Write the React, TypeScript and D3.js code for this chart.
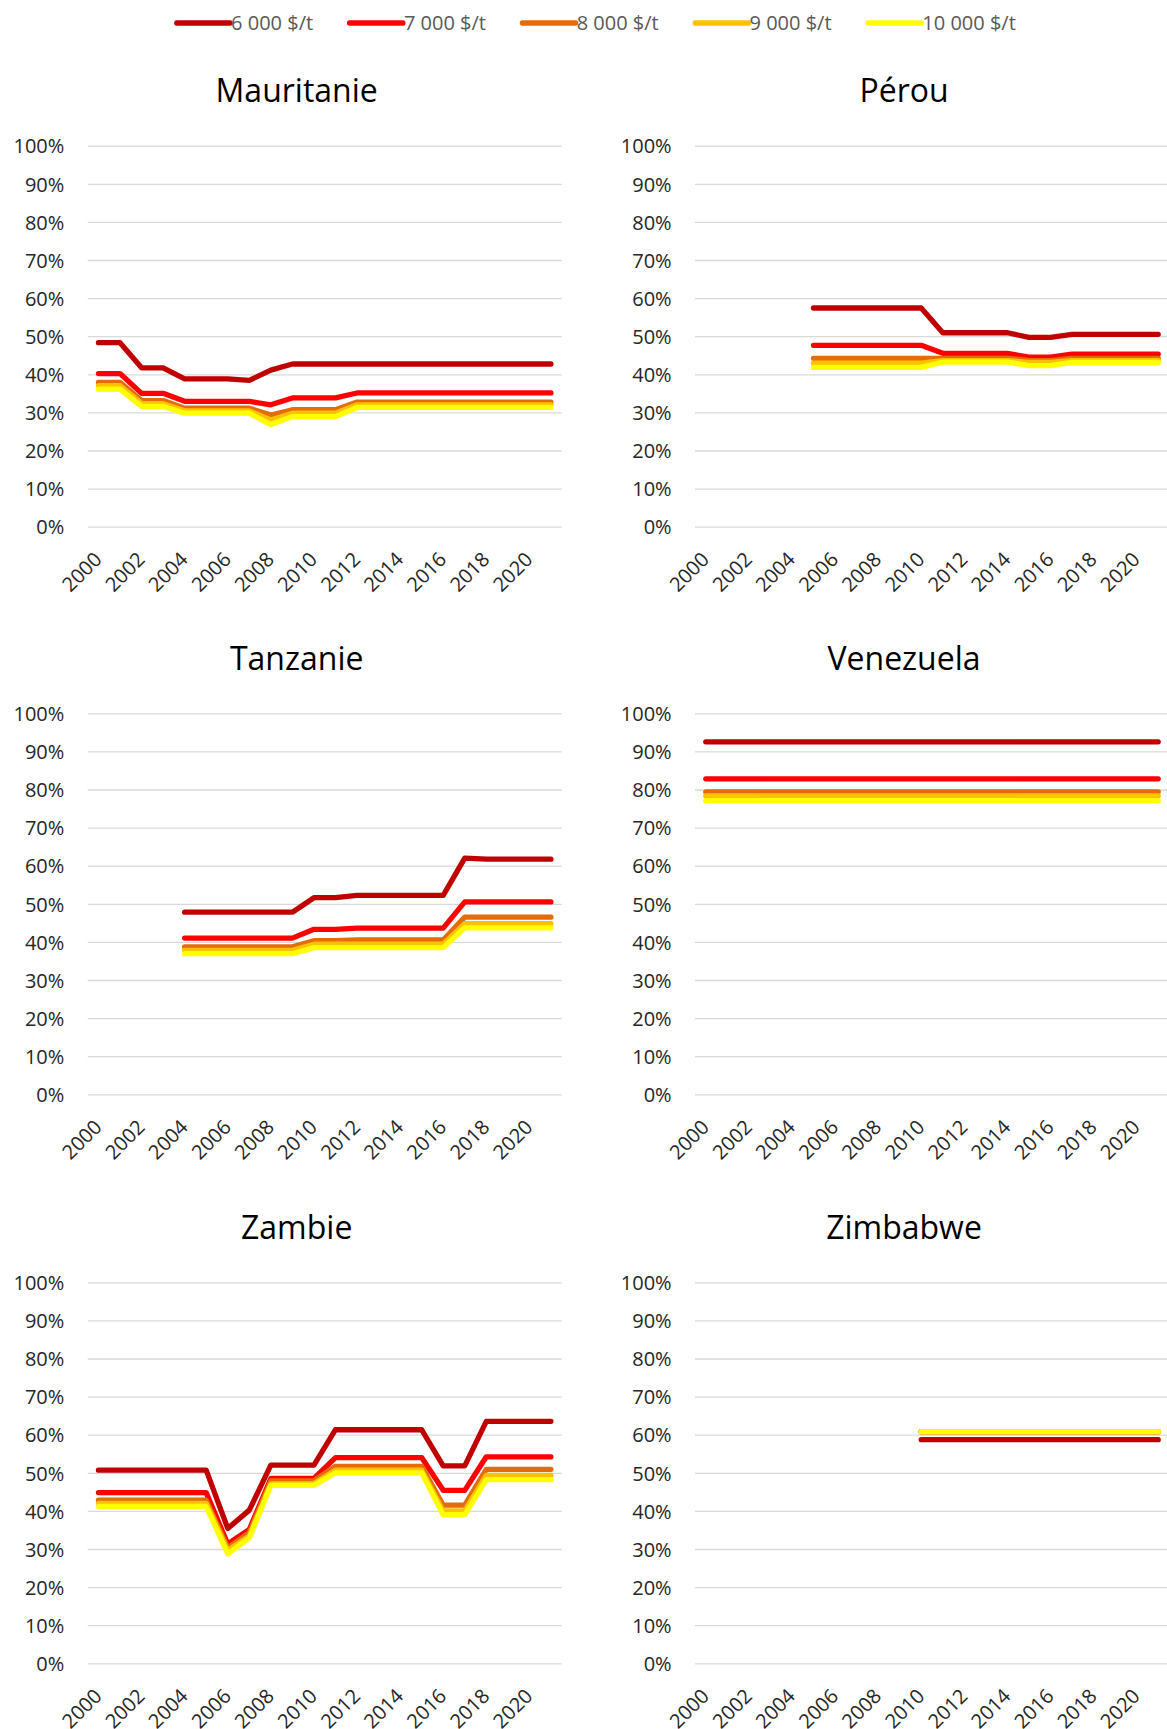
import React, { useEffect, useRef } from 'react';
import * as d3 from 'd3';

// categories
const years = [2000, 2001, 2002, 2003, 2004, 2005, 2006, 2007, 2008, 2009, 2010,
  2011, 2012, 2013, 2014, 2015, 2016, 2017, 2018, 2019, 2020, 2021];
const labelYears = [2000, 2002, 2004, 2006, 2008, 2010, 2012, 2014, 2016, 2018, 2020];
const percentTicks = [0, 10, 20, 30, 40, 50, 60, 70, 80, 90, 100];

const seriesNames = ['6 000 $/t', '7 000 $/t', '8 000 $/t', '9 000 $/t', '10 000 $/t'];
const seriesColors = ['#C00000', '#FF0000', '#E46C0A', '#FFC000', '#FFFF00'];

const countries = ['Mauritanie', 'Pérou', 'Tanzanie', 'Venezuela', 'Zambie', 'Zimbabwe'];

const _ = null;

// Mauritanie (%)
const mauritanie6000 = [48.3, 48.3, 41.7, 41.7, 38.8, 38.8, 38.8, 38.4, 41.1, 42.7, 42.7, 42.7, 42.7, 42.7, 42.7, 42.7, 42.7, 42.7, 42.7, 42.7, 42.7, 42.7];
const mauritanie7000 = [40.2, 40.2, 35.0, 35.0, 32.9, 32.9, 32.9, 32.9, 32.0, 33.8, 33.8, 33.8, 35.1, 35.1, 35.1, 35.1, 35.1, 35.1, 35.1, 35.1, 35.1, 35.1];
const mauritanie8000 = [37.9, 37.9, 33.1, 33.1, 31.1, 31.1, 31.1, 31.1, 29.3, 30.7, 30.7, 30.7, 32.7, 32.7, 32.7, 32.7, 32.7, 32.7, 32.7, 32.7, 32.7, 32.7];
const mauritanie9000 = [37.0, 37.0, 32.3, 32.3, 30.4, 30.4, 30.4, 30.4, 28.0, 29.8, 29.8, 29.8, 32.0, 32.0, 32.0, 32.0, 32.0, 32.0, 32.0, 32.0, 32.0, 32.0];
const mauritanie10000 = [36.1, 36.1, 31.6, 31.6, 29.8, 29.8, 29.8, 29.8, 26.8, 28.9, 28.9, 28.9, 31.3, 31.3, 31.3, 31.3, 31.3, 31.3, 31.3, 31.3, 31.3, 31.3];

// Pérou
const perou6000 = [_, _, _, _, _, 57.4, 57.4, 57.4, 57.4, 57.4, 57.4, 50.9, 50.9, 50.9, 50.9, 49.7, 49.7, 50.5, 50.5, 50.5, 50.5, 50.5];
const perou7000 = [_, _, _, _, _, 47.6, 47.6, 47.6, 47.6, 47.6, 47.6, 45.5, 45.5, 45.5, 45.5, 44.5, 44.5, 45.3, 45.3, 45.3, 45.3, 45.3];
const perou8000 = [_, _, _, _, _, 44.2, 44.2, 44.2, 44.2, 44.2, 44.2, 44.2, 44.2, 44.2, 44.2, 43.6, 43.6, 44.2, 44.2, 44.2, 44.2, 44.2];
const perou9000 = [_, _, _, _, _, 42.9, 42.9, 42.9, 42.9, 42.9, 42.9, 43.6, 43.6, 43.6, 43.6, 43.1, 43.1, 43.6, 43.6, 43.6, 43.6, 43.6];
const perou10000 = [_, _, _, _, _, 41.8, 41.8, 41.8, 41.8, 41.8, 41.8, 43.2, 43.2, 43.2, 43.2, 42.3, 42.3, 43.1, 43.1, 43.1, 43.1, 43.1];

// Tanzanie
const tanzanie6000 = [_, _, _, _, 47.8, 47.8, 47.8, 47.8, 47.8, 47.8, 51.6, 51.6, 52.2, 52.2, 52.2, 52.2, 52.2, 62.0, 61.7, 61.7, 61.7, 61.7];
const tanzanie7000 = [_, _, _, _, 41.0, 41.0, 41.0, 41.0, 41.0, 41.0, 43.3, 43.3, 43.6, 43.6, 43.6, 43.6, 43.6, 50.5, 50.5, 50.5, 50.5, 50.5];
const tanzanie8000 = [_, _, _, _, 38.7, 38.7, 38.7, 38.7, 38.7, 38.7, 40.3, 40.3, 40.5, 40.5, 40.5, 40.5, 40.5, 46.5, 46.5, 46.5, 46.5, 46.5];
const tanzanie9000 = [_, _, _, _, 37.8, 37.8, 37.8, 37.8, 37.8, 37.8, 39.4, 39.4, 39.4, 39.4, 39.4, 39.4, 39.4, 44.8, 44.8, 44.8, 44.8, 44.8];
const tanzanie10000 = [_, _, _, _, 36.9, 36.9, 36.9, 36.9, 36.9, 36.9, 38.5, 38.5, 38.5, 38.5, 38.5, 38.5, 38.5, 43.7, 43.7, 43.7, 43.7, 43.7];

// Venezuela
const venezuela6000 = [92.5, 92.5, 92.5, 92.5, 92.5, 92.5, 92.5, 92.5, 92.5, 92.5, 92.5, 92.5, 92.5, 92.5, 92.5, 92.5, 92.5, 92.5, 92.5, 92.5, 92.5, 92.5];
const venezuela7000 = [82.8, 82.8, 82.8, 82.8, 82.8, 82.8, 82.8, 82.8, 82.8, 82.8, 82.8, 82.8, 82.8, 82.8, 82.8, 82.8, 82.8, 82.8, 82.8, 82.8, 82.8, 82.8];
const venezuela8000 = [79.4, 79.4, 79.4, 79.4, 79.4, 79.4, 79.4, 79.4, 79.4, 79.4, 79.4, 79.4, 79.4, 79.4, 79.4, 79.4, 79.4, 79.4, 79.4, 79.4, 79.4, 79.4];
const venezuela9000 = [78.3, 78.3, 78.3, 78.3, 78.3, 78.3, 78.3, 78.3, 78.3, 78.3, 78.3, 78.3, 78.3, 78.3, 78.3, 78.3, 78.3, 78.3, 78.3, 78.3, 78.3, 78.3];
const venezuela10000 = [77.1, 77.1, 77.1, 77.1, 77.1, 77.1, 77.1, 77.1, 77.1, 77.1, 77.1, 77.1, 77.1, 77.1, 77.1, 77.1, 77.1, 77.1, 77.1, 77.1, 77.1, 77.1];

// Zambie
const zambie6000 = [50.7, 50.7, 50.7, 50.7, 50.7, 50.7, 35.4, 40.2, 52.0, 52.0, 52.0, 61.3, 61.3, 61.3, 61.3, 61.3, 51.8, 51.8, 63.5, 63.5, 63.5, 63.5];
const zambie7000 = [44.8, 44.8, 44.8, 44.8, 44.8, 44.8, 31.3, 35.1, 48.5, 48.5, 48.5, 54.0, 54.0, 54.0, 54.0, 54.0, 45.4, 45.4, 54.2, 54.2, 54.2, 54.2];
const zambie8000 = [42.8, 42.8, 42.8, 42.8, 42.8, 42.8, 30.3, 34.3, 47.9, 47.9, 47.9, 51.7, 51.7, 51.7, 51.7, 51.7, 41.5, 41.5, 50.9, 50.9, 50.9, 50.9];
const zambie9000 = [42.0, 42.0, 42.0, 42.0, 42.0, 42.0, 29.6, 33.4, 47.1, 47.1, 47.1, 50.7, 50.7, 50.7, 50.7, 50.7, 40.0, 40.0, 49.3, 49.3, 49.3, 49.3];
const zambie10000 = [41.2, 41.2, 41.2, 41.2, 41.2, 41.2, 28.7, 32.9, 46.7, 46.7, 46.7, 50.0, 50.0, 50.0, 50.0, 50.0, 39.0, 39.0, 48.2, 48.2, 48.2, 48.2];

// Zimbabwe
const zimbabwe6000 = [_, _, _, _, _, _, _, _, _, _, 58.7, 58.7, 58.7, 58.7, 58.7, 58.7, 58.7, 58.7, 58.7, 58.7, 58.7, 58.7];
const zimbabwe7000 = [_, _, _, _, _, _, _, _, _, _, 60.8, 60.8, 60.8, 60.8, 60.8, 60.8, 60.8, 60.8, 60.8, 60.8, 60.8, 60.8];
const zimbabwe8000 = [_, _, _, _, _, _, _, _, _, _, 60.8, 60.8, 60.8, 60.8, 60.8, 60.8, 60.8, 60.8, 60.8, 60.8, 60.8, 60.8];
const zimbabwe9000 = [_, _, _, _, _, _, _, _, _, _, 60.8, 60.8, 60.8, 60.8, 60.8, 60.8, 60.8, 60.8, 60.8, 60.8, 60.8, 60.8];
const zimbabwe10000 = [_, _, _, _, _, _, _, _, _, _, 60.8, 60.8, 60.8, 60.8, 60.8, 60.8, 60.8, 60.8, 60.8, 60.8, 60.8, 60.8];

const countrySeries = [
  [mauritanie6000, mauritanie7000, mauritanie8000, mauritanie9000, mauritanie10000],
  [perou6000, perou7000, perou8000, perou9000, perou10000],
  [tanzanie6000, tanzanie7000, tanzanie8000, tanzanie9000, tanzanie10000],
  [venezuela6000, venezuela7000, venezuela8000, venezuela9000, venezuela10000],
  [zambie6000, zambie7000, zambie8000, zambie9000, zambie10000],
  [zimbabwe6000, zimbabwe7000, zimbabwe8000, zimbabwe9000, zimbabwe10000],
];

const W = 1167;
const H = 1729;
const FONT = '"Open Sans", "Liberation Sans", sans-serif';
const colX = [87.7, 695];
const rowY = [145.7, 713.3, 1282.3];
const plotW = 474;
const plotH = 381;

export default function App() {
  const ref = useRef(null);

  useEffect(() => {
    const svg = d3.select(ref.current);
    svg.selectAll('*').remove();

    // legend
    const legend = svg.append('g').attr('transform', 'translate(0, 23)');
    const legendStart = 176.8;
    const legendEnd = 1015.8;
    const lineLen = 53.3;
    const items = legend.selectAll('g').data(seriesNames).join('g');
    items.append('line')
      .attr('x1', 0).attr('x2', lineLen).attr('y1', 0).attr('y2', 0)
      .attr('stroke', (d, i) => seriesColors[i])
      .attr('stroke-width', 5.3)
      .attr('stroke-linecap', 'round');
    items.append('text')
      .attr('x', lineLen + 1)
      .attr('dy', '0.36em')
      .attr('font-family', FONT)
      .attr('font-size', 20)
      .attr('fill', '#595959')
      .text(d => d);
    const widths = [];
    items.select('text').each(function () { widths.push(this.getComputedTextLength()); });
    const used = widths.reduce((a, b) => a + b, 0) + seriesNames.length * (lineLen + 1);
    const gap = (legendEnd - legendStart - used) / (seriesNames.length - 1);
    let cx = legendStart;
    items.attr('transform', (d, i) => {
      const t = `translate(${cx},0)`;
      cx += lineLen + 1 + widths[i] + gap;
      return t;
    });

    const x = d3.scalePoint().domain(years.map(String)).range([0, plotW]).padding(0.5);
    const y = d3.scaleLinear().domain([0, 100]).range([plotH, 0]);

    countries.forEach((name, ci) => {
      const x0 = colX[ci % 2];
      const y0 = rowY[Math.floor(ci / 2)];
      const g = svg.append('g').attr('transform', `translate(${x0},${y0})`);

      // y axis + gridlines
      const yAxis = g.append('g').call(
        d3.axisLeft(y)
          .tickValues(percentTicks)
          .tickFormat(d => `${d}%`)
          .tickSize(-plotW)
          .tickPadding(23.4)
      );
      yAxis.select('.domain').remove();
      yAxis.selectAll('.tick line').attr('stroke', '#D9D9D9').attr('stroke-width', 1.3);
      yAxis.selectAll('.tick text')
        .attr('dy', '0.36em')
        .attr('font-family', FONT)
        .attr('font-size', 20)
        .attr('fill', '#262626');

      // x axis labels
      const xAxis = g.append('g')
        .attr('transform', `translate(0,${plotH})`)
        .call(
          d3.axisBottom(x)
            .tickValues(labelYears.map(String))
            .tickSize(0)
        );
      xAxis.select('.domain').remove();
      xAxis.selectAll('.tick text')
        .attr('x', 4)
        .attr('y', 34)
        .attr('dy', 0)
        .attr('text-anchor', 'end')
        .attr('transform', 'rotate(-45, 4, 34)')
        .attr('font-family', FONT)
        .attr('font-size', 20)
        .attr('fill', '#262626');

      // title
      g.append('text')
        .attr('x', 209)
        .attr('y', -43.5)
        .attr('text-anchor', 'middle')
        .attr('font-family', FONT)
        .attr('font-size', 32)
        .attr('fill', '#000')
        .text(name);

      // series lines
      const line = d3.line()
        .defined(d => d != null)
        .x((d, j) => x(String(years[j])))
        .y(d => y(d));

      g.append('g').selectAll('path')
        .data(countrySeries[ci])
        .join('path')
        .attr('d', d => line(d))
        .attr('fill', 'none')
        .attr('stroke', (d, i) => seriesColors[i])
        .attr('stroke-width', 5.3)
        .attr('stroke-linecap', 'round')
        .attr('stroke-linejoin', 'round');
    });
  }, []);

  return (
    <svg
      ref={ref}
      width={W}
      height={H}
      viewBox={`0 0 ${W} ${H}`}
      style={{ position: 'absolute', left: 0, top: 0, display: 'block', background: '#fff' }}
    />
  );
}
